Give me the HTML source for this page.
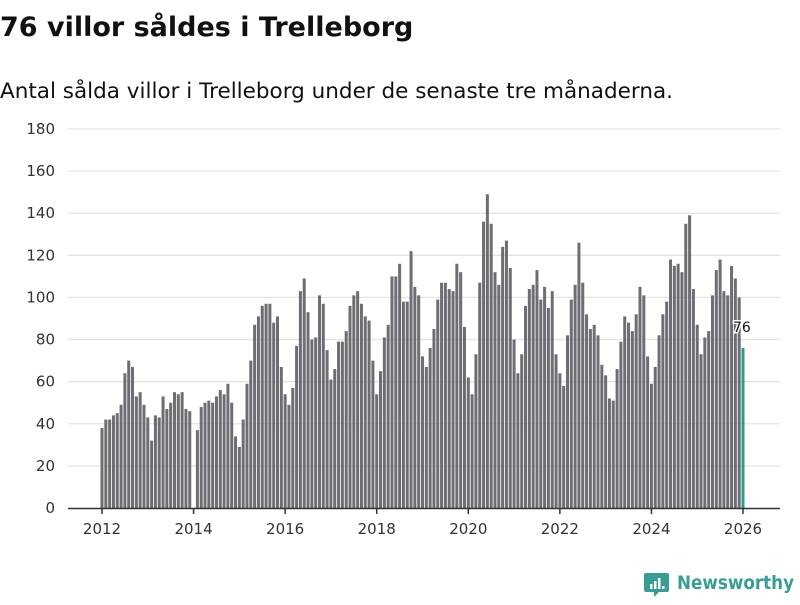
<!DOCTYPE html>
<html><head><meta charset="utf-8"><style>
body{margin:0;background:#fff;width:800px;height:600px;overflow:hidden;font-family:"Liberation Sans","DejaVu Sans",sans-serif;}
</style></head><body>
<svg width="800" height="600" xmlns="http://www.w3.org/2000/svg">
<text x="0" y="36" font-size="27" font-weight="bold" fill="#111" font-family="DejaVu Sans, sans-serif">76 villor såldes i Trelleborg</text>
<text x="0" y="98" font-size="21.5" fill="#111" font-family="DejaVu Sans, sans-serif" textLength="673" lengthAdjust="spacingAndGlyphs">Antal sålda villor i Trelleborg under de senaste tre månaderna.</text>
<g id="grid"></g><g id="bars"></g><g id="xaxis"></g>
<g>
<path d="M646 573 h21 a2 2 0 0 1 2 2 v15 a2 2 0 0 1 -2 2 h-8 l-5 5 v-5 h-8 a2 2 0 0 1 -2 -2 v-15 a2 2 0 0 1 2 -2z" fill="#3a9d93"/>
<rect x="650" y="584" width="2.5" height="5" fill="#fff"/><rect x="654" y="581" width="2.5" height="8" fill="#fff"/><rect x="658" y="578" width="2.5" height="11" fill="#fff"/><rect x="662" y="586" width="2.5" height="3" fill="#fff"/>
<text x="677" y="589" font-size="19" font-weight="bold" fill="#3a9d93" font-family="DejaVu Sans, sans-serif" textLength="117" lengthAdjust="spacingAndGlyphs">Newsworthy</text>
</g>
</svg>
<script>
const yTicks=[0,20,40,60,80,100,120,140,160,180];
const xTickLabels=["2012","2014","2016","2018","2020","2022","2024","2026"];
const startYear=2012;
const values=[38,42,42,44,45,49,64,70,67,53,55,49,
43,32,44,43,53,47,50,55,54,55,47,46,
0,37,48,50,51,50,53,56,54,59,50,34,
29,42,59,70,87,91,96,97,97,88,91,67,
54,49,57,77,103,109,93,80,81,101,97,75,
61,66,79,79,84,96,101,103,97,91,89,70,
54,65,81,87,110,110,116,98,98,122,105,101,
72,67,76,85,99,107,107,104,103,116,112,86,
62,54,73,107,136,149,135,112,106,124,127,114,
80,64,73,96,104,106,113,99,105,95,103,73,
64,58,82,99,106,126,107,92,85,87,82,68,
63,52,51,66,79,91,88,84,92,105,101,72,
59,67,82,92,98,118,115,116,112,135,139,104,
87,73,81,84,101,113,118,103,101,115,109,100,
76];
const NS="http://www.w3.org/2000/svg";
const x0=102,x1=743,y0=508,y1=129;
const step=(x1-x0)/(values.length-1);
function xs(i){return x0+i*step;}
function ys(v){return y0-(v/180)*(y0-y1);}
function mk(t,a){const e=document.createElementNS(NS,t);for(const k in a)e.setAttribute(k,a[k]);return e;}
const grid=document.getElementById('grid');
yTicks.forEach(t=>{
 if(t>0){const l=mk('line',{x1:68,x2:780,y1:ys(t),y2:ys(t),stroke:'#e3e3e3','stroke-width':1.3});
 
 
 grid.appendChild(l);}
 const tx=mk('text',{x:55,y:ys(t)+5,'text-anchor':'end','font-size':15,fill:'#333','font-family':'DejaVu Sans, sans-serif'});
 tx.textContent=t;
 
 
 grid.appendChild(tx);
});
const bars=document.getElementById('bars');
values.forEach((v,i)=>{
 if(v<=0)return;
 const last=i===values.length-1;
 const r=mk('rect',{x:xs(i)-1.5,y:ys(v),width:3,height:y0-ys(v),fill:last?'#2a9d8f':'#6e6d73'});
 
 
 bars.appendChild(r);
});
const li=values.length-1;
const lbl=mk('text',{x:xs(li)-10,y:ys(values[li])-16,'font-size':14,fill:'#111',stroke:'#fff','stroke-width':3,'paint-order':'stroke','font-family':'DejaVu Sans, sans-serif'});
lbl.textContent=values[li];


bars.appendChild(lbl);
const xa=document.getElementById('xaxis');
const ax=mk('line',{x1:68,x2:780,y1:y0+0.5,y2:y0+0.5,stroke:'#333','stroke-width':1.5});


xa.appendChild(ax);
xTickLabels.forEach(lab=>{
 const i=(parseInt(lab)-startYear)*12;const x=xs(i);
 const tk=mk('line',{x1:x,x2:x,y1:y0,y2:y0+6,stroke:'#333','stroke-width':1.5});
 
 
 xa.appendChild(tk);
 const t=mk('text',{x:x,y:y0+26,'text-anchor':'middle','font-size':15,fill:'#333','font-family':'DejaVu Sans, sans-serif'});
 t.textContent=lab;
 
 
 xa.appendChild(t);
});
</script>
</body></html>
